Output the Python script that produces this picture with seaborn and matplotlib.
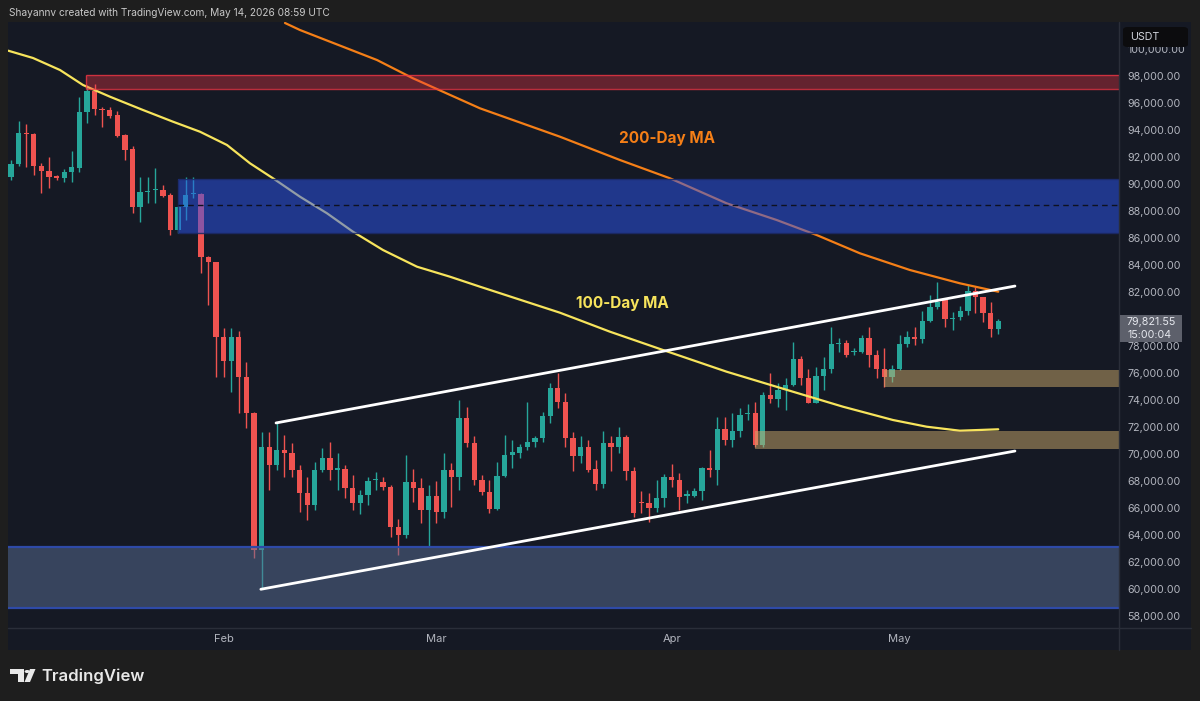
import warnings
import numpy as np
import pandas as pd
import matplotlib
matplotlib.use("Agg")
import matplotlib.pyplot as plt
from matplotlib.patches import Rectangle, Circle, Polygon, FancyBboxPatch
from matplotlib.lines import Line2D
from matplotlib.colors import to_rgba
import seaborn as sns

warnings.filterwarnings("ignore")

# ----------------------------
# Dados (velas diarias, 4 jan -> 14 mai 2026)
# ----------------------------
start_date = "2026-01-04"

opens = [90540, 91460, 93800, 93700, 91300, 90980, 90600, 90450, 90910, 91160,
         95350, 96890, 95570, 95480, 95110, 93630, 92570, 88320, 89400, 89560,
         89550, 89180, 86590, 88320, 89280, 89240, 84590, 84200, 78690, 76910,
         78690, 75730, 73070, 62890, 70540, 69180, 70300, 70100, 68810, 67090,
         66220, 68810, 69730, 68840, 68870, 67460, 66390, 66960, 68040, 67950,
         67580, 64610, 64000, 67950, 67460, 65850, 66910, 65720, 68810, 68270,
         72640, 70840, 68070, 67210, 65900, 68370, 69930, 70090, 70500, 70910,
         71210, 72820, 74870, 73870, 71160, 69850, 70500, 68870, 67780, 70840,
         70500, 71280, 68760, 66420, 66350, 65980, 66720, 68270, 68070, 66920,
         66890, 67280, 68980, 68810, 71850, 71040, 71730, 72930, 73010, 70660,
         74370, 74050, 74740, 75110, 77010, 75600, 73760, 75780, 76270, 78150,
         78200, 77560, 77580, 78570, 77330, 76270, 75730, 76270, 78150, 78640,
         78500, 79880, 80870, 81410, 80010, 80130, 80620, 82100, 81650, 80420,
         79240]

highs = [91800, 94690, 94420, 93750, 91580, 92020, 90700, 91130, 92470, 96470,
         97300, 97400, 95730, 95700, 95430, 93700, 92810, 90490, 90500, 91160,
         89920, 89300, 88400, 90540, 90540, 89300, 84700, 84250, 79350, 79350,
         79130, 76840, 73100, 71650, 71650, 72270, 71400, 70810, 69180, 68320,
         69430, 70430, 70910, 70050, 69180, 68440, 67300, 68320, 68690, 68320,
         67700, 65200, 69930, 68870, 68200, 67700, 68000, 70070, 69300, 74000,
         73500, 71330, 68440, 68070, 69430, 71430, 71040, 70740, 73870, 71300,
         73130, 75230, 76000, 74500, 71600, 71330, 71040, 69560, 71730, 71330,
         71980, 71410, 69060, 67280, 67090, 68070, 68520, 69260, 68570, 67330,
         67450, 69060, 70300, 72770, 72770, 73060, 73380, 73700, 73870, 74620,
         75980, 75240, 75600, 78320, 77260, 76270, 76470, 77160, 79380, 78570,
         78440, 77840, 78810, 79390, 77700, 77830, 76590, 78810, 79130, 79380,
         80610, 81780, 82760, 81500, 80540, 80960, 82520, 82350, 81650, 81280,
         79980]

lows = [90300, 91300, 91250, 90650, 89300, 89680, 90300, 90140, 90140, 90900,
        94500, 95100, 94240, 94900, 93500, 91780, 87830, 87210, 88590, 88590,
        89000, 86220, 86400, 87330, 88960, 83400, 81040, 75730, 75730, 74620,
        73010, 71900, 62270, 59980, 67330, 68810, 68320, 68320, 65720, 65110,
        65850, 68700, 68070, 67330, 66720, 65850, 65580, 66220, 67330, 67330,
        63870, 62520, 63800, 66470, 64870, 63140, 64900, 65240, 66100, 67330,
        70540, 67700, 66960, 65610, 65850, 68270, 68960, 69680, 70300, 70500,
        70900, 72270, 73400, 70520, 68760, 69300, 68690, 67330, 67460, 68740,
        70100, 68070, 65360, 65610, 64990, 65730, 66100, 67530, 65850, 66350,
        66790, 66590, 68270, 67700, 70670, 70540, 71280, 72520, 70540, 70540,
        73760, 73500, 73260, 75000, 75110, 73760, 73760, 74740, 76000, 77580,
        77210, 77330, 77460, 76470, 75600, 74990, 75360, 76220, 77950, 78070,
        78200, 79800, 80720, 79430, 79180, 79930, 80300, 80420, 79800, 78690,
        78890]

closes = [91460, 93800, 93700, 91300, 90980, 90550, 90450, 90900, 91240, 95350,
          96890, 95530, 95470, 95030, 93550, 92520, 88320, 89430, 89460, 89620,
          89110, 86590, 88320, 89180, 89330, 84620, 84240, 78690, 76910, 78690,
          75730, 73070, 62890, 70540, 69180, 70300, 70100, 68810, 67090, 66220,
          68810, 69730, 68810, 68900, 67460, 66390, 66960, 68020, 68100, 67580,
          64610, 64000, 67950, 67460, 65850, 66910, 65700, 68810, 68270, 72640,
          70840, 68070, 67210, 65900, 68370, 69930, 70170, 70540, 70910, 71210,
          72820, 74870, 73870, 71160, 69850, 70500, 68810, 67780, 70840, 70500,
          71280, 68760, 65610, 66350, 65980, 66720, 68270, 68070, 66840, 66980,
          67280, 68980, 68810, 71850, 71040, 71730, 72890, 72990, 70660, 74370,
          74050, 74740, 75110, 77010, 75600, 73760, 75780, 76270, 78150, 78230,
          77330, 77600, 78570, 77330, 76270, 75730, 76270, 78150, 78640, 78500,
          79880, 80870, 81280, 79980, 80050, 80620, 82100, 81650, 80420, 79240,
          79820]

last_price = 79821.55
countdown = "15:00:04"

# medias moveis (indice do dia, preco)
ma100_idx = [-0.36, 2.9, 6.45, 9.48, 13.03, 17.38, 21.33, 24.88, 28.44, 31.47,
             34.5, 38.05, 41.61, 45.03, 48.98, 53.46, 57.8, 61.75, 72.28, 78.87,
             85.85, 94.23, 102.96, 109.55, 116.13, 120.57, 124.95, 130.0]
ma100_val = [99874, 99333, 98444, 97333, 96467, 95481, 94615, 93874, 92889, 91533,
             90422, 89059, 87830, 86467, 85111, 83874, 83133, 82393, 80467, 79059,
             77704, 76096, 74615, 73504, 72519, 72022, 71726, 71830]
ma200_idx = [36.08, 38.05, 48.19, 52.93, 61.75, 72.28, 80.18, 86.77, 94.23,
             100.82, 106.08, 111.78, 118.36, 124.95, 130.0]
ma200_val = [101926, 101407, 99185, 97830, 95607, 93504, 91778, 90422, 88570,
             87333, 86222, 84867, 83630, 82644, 82022]

# canal ascendente (inicio, fim)
chan_upper = [(34.9, 72300), (132.2, 82440)]
chan_lower = [(32.9, 59980), (132.2, 70220)]

# zonas: (indice inicial, preco baixo, preco alto)
zone_red = (9.9, 97010, 98080)
zone_blue = (22.0, 86370, 90370)
zone_blue_mid = 88420
zone_bottom = (-1.0, 58570, 63090)
zone_tan1 = (115.0, 74940, 76240)
zone_tan2 = (98.0, 70350, 71690)

price_ticks = list(range(58000, 100001, 2000))
month_labels = ["Feb", "Mar", "Apr", "May"]
month_dates = ["2026-02-01", "2026-03-01", "2026-04-01", "2026-05-01"]

# ----------------------------
# Cores / estilo
# ----------------------------
OUTER = "#1e1e1e"
BG = "#151924"
SEP = "#2a2e39"
TXT = "#b2b5be"
UP = "#26a69a"
DOWN = "#ef5350"
YEL = "#f7e45c"
ORA = "#f57f17"

sns.set_theme(style="dark", rc={"axes.facecolor": BG, "figure.facecolor": OUTER,
                                "axes.grid": False})
plt.rcParams["font.family"] = ["Inter", "DejaVu Sans"]

W, H = 1200, 701
fig = plt.figure(figsize=(12, 7.01), dpi=100)


def fx(px):
    return px / W


def fy(py):
    return 1 - py / H


# painel do grafico (inclui escala de preco e de tempo)
fig.patches.append(Rectangle((fx(8), fy(650)), fx(1183), 628 / H, transform=fig.transFigure,
                             facecolor=BG, edgecolor="none", zorder=-1))

ax = fig.add_axes([fx(8), fy(628), fx(1111), 606 / H])
ax.set_facecolor(BG)

dates = pd.date_range(start_date, periods=len(opens), freq="D")
df = pd.DataFrame({"date": dates, "open": opens, "high": highs, "low": lows, "close": closes})
df["i"] = np.arange(len(df))
df["up"] = df["close"] >= df["open"]
df["col"] = np.where(df["up"], UP, DOWN)

# ----------------------------
# Velas
# ----------------------------
ax.vlines(df["i"], df["low"], df["high"], colors=df["col"], lw=1.0, zorder=2)
body = (df["close"] - df["open"]).abs().clip(lower=90)
ax.bar(df["i"], body, bottom=df[["open", "close"]].min(axis=1), width=0.7,
       color=df["col"], edgecolor="none", zorder=2)

# ----------------------------
# Medias moveis
# ----------------------------
ma100 = pd.DataFrame({"i": ma100_idx, "v": ma100_val})
ma200 = pd.DataFrame({"i": ma200_idx, "v": ma200_val})
sns.lineplot(data=ma100, x="i", y="v", ax=ax, color=YEL, lw=1.6, zorder=3, sort=False)
sns.lineplot(data=ma200, x="i", y="v", ax=ax, color=ORA, lw=1.6, zorder=3, sort=False)

ax.text(86.4, 93400, "200-Day MA", color=ORA, fontsize=11, fontweight="bold",
        ha="center", va="center", zorder=6)
ax.text(80.5, 81160, "100-Day MA", color=YEL, fontsize=11, fontweight="bold",
        ha="center", va="center", zorder=6)

# ----------------------------
# Zonas
# ----------------------------
XMAX = 145.9


def zone(z, face, alpha, edge=None, ealpha=1.0, lw=1.0, left_edge=True):
    x0, lo, hi = z
    ax.add_patch(Rectangle((x0, lo), XMAX - x0, hi - lo, facecolor=to_rgba(face, alpha),
                           edgecolor="none", zorder=4))
    if edge:
        ec = to_rgba(edge, ealpha)
        ax.hlines([lo, hi], x0, XMAX, colors=[ec], lw=lw, zorder=4)
        if left_edge:
            ax.vlines(x0, lo, hi, colors=[ec], lw=lw, zorder=4)


zone(zone_red, "#f23645", 0.36, edge="#f23645", ealpha=0.75)
zone(zone_blue, "#2c56f2", 0.5, edge="#1b2a6a", ealpha=0.9)
ax.hlines(zone_blue_mid, zone_blue[0], XMAX, colors="#0e1120", lw=1.0,
          linestyles=(0, (4, 3)), zorder=4)
zone(zone_bottom, "#5a7096", 0.5, edge="#2e4aa8", ealpha=1.0, lw=1.6, left_edge=False)
zone(zone_tan1, "#ccaa6b", 0.5)
zone(zone_tan2, "#ccaa6b", 0.5)

# ----------------------------
# Canal
# ----------------------------
for seg in (chan_upper, chan_lower):
    chan = pd.DataFrame(seg, columns=["i", "v"])
    sns.lineplot(data=chan, x="i", y="v", ax=ax, color="white", lw=2.0, zorder=5, sort=False)

# ----------------------------
# Eixos
# ----------------------------
ax.set_xlim(-0.395, XMAX)
ax.set_ylim(57111, 102000)
ax.set_xlabel("")
ax.set_ylabel("")
ax.yaxis.tick_right()
ax.set_yticks(price_ticks)
# o rotulo 80,000 fica escondido sob a etiqueta do ultimo preco
ax.set_yticklabels(["" if p == 80000 else f"{p:,.2f}" for p in price_ticks])
mi = [int((pd.Timestamp(d) - dates[0]).days) for d in month_dates]
ax.set_xticks(mi)
ax.set_xticklabels(month_labels)
ax.tick_params(axis="y", length=0, pad=5.8, labelsize=7.7, labelcolor=TXT)
ax.tick_params(axis="x", length=0, pad=4.5, labelsize=8.0, labelcolor=TXT)
for s in ax.spines.values():
    s.set_visible(False)

# linhas separadoras das escalas
fig.add_artist(Line2D([fx(1119), fx(1119)], [fy(22), fy(650)], color=SEP, lw=1,
                      transform=fig.transFigure))
fig.add_artist(Line2D([fx(8), fx(1191)], [fy(628), fy(628)], color=SEP, lw=1,
                      transform=fig.transFigure))

# etiqueta do ultimo preco (caixa fixa na escala de preco)
yp = H - ax.transData.transform((0, last_price))[1]  # pixel a partir do topo
fig.patches.append(Rectangle((fx(1120), fy(yp + 20.5)), fx(62), 27 / H, transform=fig.transFigure,
                             facecolor="#5d606b", edgecolor="none", zorder=5))
fig.text(fx(1127), fy(yp + 0.5), f"{last_price:,.2f}", color="#e6e8ee", fontsize=7.7,
         ha="left", va="center", zorder=6)
fig.text(fx(1127), fy(yp + 13.5), countdown, color="#e6e8ee", fontsize=7.7,
         ha="left", va="center", zorder=6)

# etiqueta USDT
fig.patches.append(FancyBboxPatch((fx(1123), fy(47)), fx(65), 20 / H, boxstyle="round,pad=0,rounding_size=0.004",
                                  transform=fig.transFigure, facecolor="#0c0c0e", edgecolor="none", zorder=5))
fig.text(fx(1130), fy(37), "USDT", color="#d1d4dc", fontsize=7.7, va="center", ha="left", zorder=6)

# cabecalho
fig.text(fx(9), fy(12.5), "Shayannv created with TradingView.com, May 14, 2026 08:59 UTC",
         color="#c8c8c8", fontsize=7.3, va="center", ha="left")

# logo TradingView
logo_c = "#e8e8e8"
fig.patches.append(Polygon([(fx(10), fy(669)), (fx(23.5), fy(669)), (fx(23.5), fy(682)),
                            (fx(17.5), fy(682)), (fx(17.5), fy(674)), (fx(10), fy(674))],
                           closed=True, transform=fig.transFigure, facecolor=logo_c, edgecolor="none"))
fig.patches.append(Circle((fx(27.2), fy(671.5)), 2.6 / W, transform=fig.transFigure,
                          facecolor=logo_c, edgecolor="none"))
fig.patches.append(Polygon([(fx(30), fy(669)), (fx(35.5), fy(669)), (fx(30), fy(682)), (fx(24.5), fy(682))],
                           closed=True, transform=fig.transFigure, facecolor=logo_c, edgecolor="none"))
fig.text(fx(41), fy(676), "TradingView", color=logo_c, fontsize=12, fontweight="semibold",
         va="center", ha="left")

fig.savefig("out.png", dpi=100, facecolor=OUTER)
